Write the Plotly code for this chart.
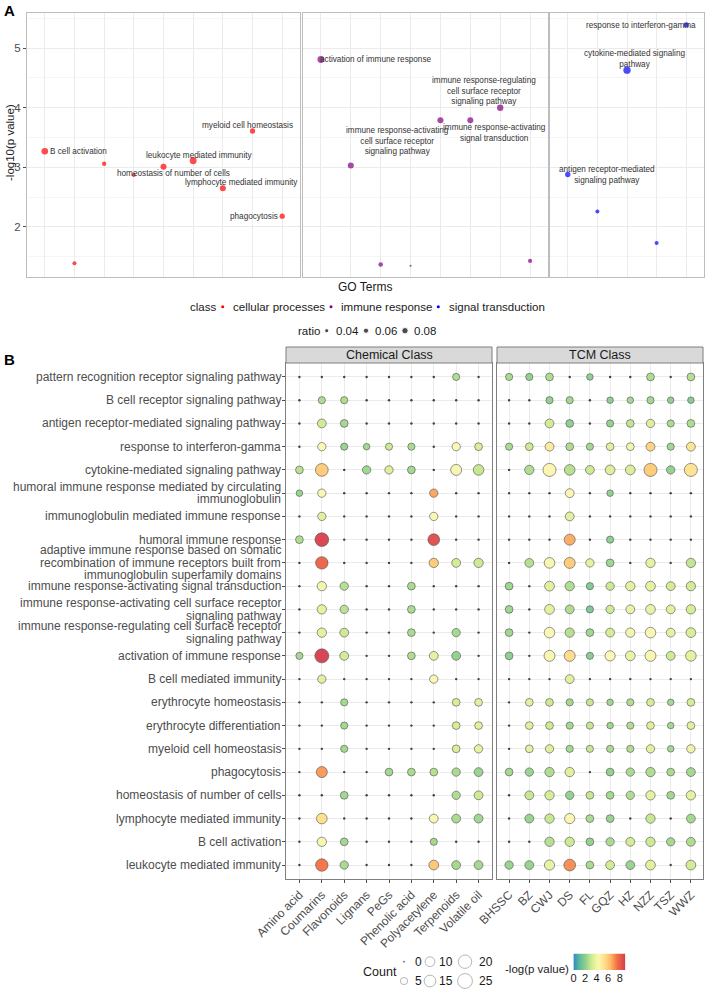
import plotly.graph_objects as go
import numpy as np

# ================= Panel A data =================
cell_terms = ["B cell activation", "B cell mediated immunity", "erythrocyte differentiation",
              "erythrocyte homeostasis", "homeostasis of number of cells", "leukocyte mediated immunity",
              "lymphocyte mediated immunity", "myeloid cell homeostasis", "phagocytosis"]
cell_logp = [3.27, 1.39, 3.06, 2.87, 3.01, 3.11, 2.65, 3.61, 2.18]
cell_ratio = [0.085, 0.04, 0.045, 0.04, 0.075, 0.09, 0.075, 0.062, 0.062]
cell_labels = ["B cell activation", None, None, None, "homeostasis of number of cells",
               "leukocyte mediated immunity", "lymphocyte mediated immunity",
               "myeloid cell homeostasis", "phagocytosis"]

immune_terms = ["activation of immune response",
                "adaptive immune response based on somatic recombination of immune receptors built from immunoglobulin superfamily domains",
                "humoral immune response", "humoral immune response mediated by circulating immunoglobulin",
                "immune response-activating cell surface receptor signaling pathway",
                "immune response-activating signal transduction",
                "immune response-regulating cell surface receptor signaling pathway",
                "immunoglobulin mediated immune response"]
immune_logp = [4.81, 3.03, 1.37, 1.35, 3.79, 3.79, 4.00, 1.43]
immune_ratio = [0.09, 0.075, 0.05, 0.005, 0.075, 0.075, 0.08, 0.042]
immune_labels = ["activation of immune response", None, None, None,
                 "immune response-activating<br>cell surface receptor<br>signaling pathway",
                 "immune response-activating<br>signal transduction",
                 "immune response-regulating<br>cell surface receptor<br>signaling pathway", None]

signal_terms = ["antigen receptor-mediated signaling pathway", "B cell receptor signaling pathway",
                "cytokine-mediated signaling pathway", "pattern recognition receptor signaling pathway",
                "response to interferon-gamma"]
signal_logp = [2.88, 2.26, 4.63, 1.73, 5.39]
signal_ratio = [0.063, 0.04, 0.097, 0.04, 0.063]
signal_labels = ["antigen receptor-mediated<br>signaling pathway", None,
                 "cytokine-mediated signaling<br>pathway", None, "response to interferon-gamma"]

class_names = ["cellular processes", "immune response", "signal transduction"]
ratio_breaks = [0.04, 0.06, 0.08]

# ================= Panel B data =================
go_rows = [
    "pattern recognition receptor signaling pathway",
    "B cell receptor signaling pathway",
    "antigen receptor-mediated signaling pathway",
    "response to interferon-gamma",
    "cytokine-mediated signaling pathway",
    "humoral immune response mediated by circulating<br>immunoglobulin",
    "immunoglobulin mediated immune response",
    "humoral immune response",
    "adaptive immune response based on somatic<br>recombination of immune receptors built from<br>immunoglobulin superfamily domains",
    "immune response-activating signal transduction",
    "immune response-activating cell surface receptor<br>signaling pathway",
    "immune response-regulating cell surface receptor<br>signaling pathway",
    "activation of immune response",
    "B cell mediated immunity",
    "erythrocyte homeostasis",
    "erythrocyte differentiation",
    "myeloid cell homeostasis",
    "phagocytosis",
    "homeostasis of number of cells",
    "lymphocyte mediated immunity",
    "B cell activation",
    "leukocyte mediated immunity",
]
chem_cols = ["Amino acid", "Coumarins", "Flavonoids", "Lignans", "PeGs", "Phenolic acid",
             "Polyacetylene", "Terpenoids", "Volatile oil"]
tcm_cols = ["BHSSC", "BZ", "CWJ", "DS", "FL", "GQZ", "HZ", "NZZ", "TSZ", "WWZ"]

chem_count = [
    [0, 0, 0, 0, 0, 0, 0, 5, 0],
    [0, 5, 5, 0, 0, 0, 0, 0, 0],
    [0, 8, 6, 0, 0, 0, 0, 0, 0],
    [0, 7, 5, 4, 5, 5, 0, 7, 6],
    [6, 18, 0, 7, 7, 6, 0, 13, 12],
    [4, 7, 0, 0, 0, 0, 7, 0, 0],
    [0, 7, 0, 0, 0, 0, 7, 0, 0],
    [6, 21, 0, 0, 0, 0, 15, 0, 0],
    [0, 17, 0, 0, 0, 0, 9, 8, 9],
    [0, 9, 7, 0, 0, 6, 0, 0, 0],
    [0, 9, 7, 0, 0, 6, 0, 0, 0],
    [0, 9, 8, 0, 0, 6, 0, 7, 0],
    [5, 22, 8, 0, 0, 6, 8, 8, 0],
    [0, 7, 0, 0, 0, 0, 7, 0, 0],
    [0, 0, 5, 0, 0, 0, 0, 6, 6],
    [0, 0, 5, 0, 0, 0, 0, 6, 6],
    [0, 0, 5, 0, 0, 0, 0, 6, 7],
    [0, 13, 0, 0, 6, 6, 6, 7, 8],
    [0, 0, 6, 0, 0, 0, 0, 7, 8],
    [0, 12, 0, 0, 0, 0, 8, 8, 8],
    [0, 9, 6, 0, 0, 0, 5, 0, 0],
    [0, 17, 7, 0, 0, 0, 10, 8, 8],
]
chem_logp = [
    [0, 0, 0, 0, 0, 0, 0, 2.6, 0],
    [0, 2.6, 2.6, 0, 0, 0, 0, 0, 0],
    [0, 3.2, 2.4, 0, 0, 0, 0, 0, 0],
    [0, 4.3, 2.2, 2.4, 3.1, 2.5, 0, 4.3, 3.4],
    [2.8, 6.0, 0, 2.3, 3.5, 2.4, 0, 4.2, 3.0],
    [2.2, 4.4, 0, 0, 0, 0, 6.8, 0, 0],
    [0, 3.6, 0, 0, 0, 0, 4.3, 0, 0],
    [2.6, 8.9, 0, 0, 0, 0, 8.6, 0, 0],
    [0, 8.0, 0, 0, 0, 0, 6.0, 3.2, 3.1],
    [0, 4.1, 2.7, 0, 0, 2.5, 0, 0, 0],
    [0, 3.7, 2.8, 0, 0, 2.5, 0, 0, 0],
    [0, 3.7, 3.1, 0, 0, 2.5, 0, 2.4, 0],
    [2.4, 9.0, 3.2, 0, 0, 2.6, 3.7, 2.1, 0],
    [0, 3.6, 0, 0, 0, 0, 4.4, 0, 0],
    [0, 0, 2.4, 0, 0, 0, 0, 3.3, 3.6],
    [0, 0, 2.4, 0, 0, 0, 0, 3.3, 3.6],
    [0, 0, 2.4, 0, 0, 0, 0, 3.4, 3.7],
    [0, 7.0, 0, 0, 2.4, 2.5, 2.7, 2.5, 2.2],
    [0, 0, 2.4, 0, 0, 0, 0, 2.6, 3.1],
    [0, 5.4, 0, 0, 0, 0, 4.4, 2.5, 2.3],
    [0, 4.2, 2.4, 0, 0, 0, 2.4, 0, 0],
    [0, 7.6, 2.5, 0, 0, 0, 6.1, 2.4, 2.4],
]
tcm_count = [
    [5, 5, 6, 0, 4, 0, 0, 6, 0, 6],
    [0, 0, 5, 5, 0, 4, 4, 5, 4, 4],
    [0, 0, 8, 6, 0, 5, 6, 7, 5, 6],
    [5, 6, 8, 6, 5, 6, 6, 8, 5, 8],
    [0, 9, 19, 12, 8, 10, 10, 19, 7, 19],
    [0, 0, 0, 8, 0, 4, 0, 0, 0, 0],
    [0, 0, 0, 8, 0, 0, 0, 0, 0, 0],
    [0, 0, 0, 13, 0, 5, 0, 0, 0, 0],
    [0, 8, 12, 13, 7, 6, 0, 9, 0, 9],
    [6, 0, 10, 9, 5, 7, 9, 10, 8, 9],
    [6, 0, 10, 8, 5, 7, 8, 10, 8, 9],
    [6, 0, 12, 9, 6, 8, 9, 12, 8, 10],
    [6, 0, 13, 13, 5, 11, 10, 13, 8, 12],
    [0, 0, 0, 8, 0, 0, 0, 0, 0, 0],
    [0, 6, 6, 5, 5, 4, 5, 6, 4, 6],
    [0, 6, 6, 5, 5, 4, 5, 6, 4, 6],
    [0, 6, 7, 5, 5, 5, 5, 7, 4, 7],
    [6, 7, 9, 9, 0, 6, 7, 9, 6, 8],
    [0, 8, 9, 7, 6, 6, 7, 9, 6, 9],
    [0, 8, 9, 11, 6, 6, 0, 9, 0, 8],
    [0, 0, 9, 9, 6, 7, 8, 9, 7, 8],
    [7, 8, 11, 15, 6, 8, 8, 10, 0, 10],
]
tcm_logp = [
    [2.5, 2.1, 2.6, 0, 2.0, 0, 0, 2.6, 0, 2.7],
    [0, 0, 2.1, 2.4, 0, 2.0, 2.4, 2.4, 2.1, 1.9],
    [0, 0, 3.2, 2.0, 0, 2.1, 2.9, 3.5, 2.5, 2.6],
    [2.5, 3.1, 5.0, 2.6, 2.4, 3.6, 4.1, 5.8, 2.3, 5.2],
    [0, 2.6, 4.4, 2.7, 3.1, 3.5, 3.4, 6.0, 2.1, 5.3],
    [0, 0, 0, 4.4, 0, 2.1, 0, 0, 0, 0],
    [0, 0, 0, 3.6, 0, 0, 0, 0, 0, 0],
    [0, 0, 0, 6.7, 0, 2.0, 0, 0, 0, 0],
    [0, 2.7, 4.2, 6.0, 3.7, 2.3, 0, 3.7, 0, 2.9],
    [2.3, 0, 3.6, 2.6, 1.8, 3.1, 3.7, 3.7, 3.2, 3.2],
    [2.3, 0, 3.7, 2.6, 1.7, 3.1, 3.9, 3.8, 3.6, 3.3],
    [2.3, 0, 4.3, 2.7, 2.3, 3.3, 4.1, 4.4, 3.7, 3.4],
    [2.0, 0, 4.2, 5.5, 1.9, 4.3, 3.8, 4.2, 3.1, 3.7],
    [0, 0, 0, 3.6, 0, 0, 0, 0, 0, 0],
    [0, 3.6, 3.1, 2.4, 3.0, 2.3, 2.6, 3.3, 2.4, 3.3],
    [0, 3.6, 3.1, 2.4, 3.0, 2.3, 2.6, 3.5, 2.4, 3.6],
    [0, 3.7, 3.5, 2.4, 3.0, 2.5, 2.6, 3.6, 2.4, 4.0],
    [2.4, 2.2, 2.6, 3.6, 0, 2.1, 2.5, 2.6, 2.5, 2.4],
    [0, 3.0, 3.3, 2.1, 3.0, 2.4, 2.6, 3.7, 2.4, 3.7],
    [0, 2.2, 3.0, 4.3, 2.5, 2.2, 0, 3.0, 0, 2.4],
    [0, 0, 2.7, 3.1, 2.1, 2.5, 3.2, 3.1, 2.4, 2.6],
    [2.2, 2.2, 3.8, 7.2, 2.5, 3.2, 2.2, 3.6, 0, 3.2],
]
count_breaks = [0, 5, 10, 15, 20, 25]
color_ticks = [0, 2, 4, 6, 8]

# ================= styling =================
FONT = "Liberation Sans, Arial, sans-serif"
PAGE_W, PAGE_H = 707, 991
OFF = 0                       # page margin is removed by the post script below
W, H = PAGE_W - OFF, PAGE_H - OFF
class_colors = ["#FF0000", "#800080", "#0000FF"]
spectral = [[0, "#3288BD"], [0.12, "#5DBA9E"], [0.24, "#93D18C"], [0.36, "#D4EC90"],
            [0.48, "#FBF8B2"], [0.6, "#FEE08B"], [0.72, "#FDB867"], [0.85, "#F46D43"], [1, "#D53E4F"]]
CMIN, CMAX = 0, 9.0
LINE_PX = 12.6   # line spacing of wrapped y labels in panel B


def a_size(r):
    return 1.75 + 57.5 * np.asarray(r)


def b_size(c):
    return 1 + 2.77 * np.sqrt(np.asarray(c, dtype=float))


def px_x(p):
    return (p - OFF) / W


def px_y(p):
    return 1 - (p - OFF) / H


# label offsets (pixels: dx right, dy down) and anchors
cell_off = {0: (3.5, 0, "left"), 4: (10, 7, "center"), 5: (6, -5.7, "center"),
            6: (19, -5.6, "center"), 7: (-5, -5, "center"), 8: (-2.5, 0, "right")}
immune_off = {0: (-3, 0.5, "left"), 4: (-43, 21, "center"), 5: (24, 13, "center"),
              6: (-16, -17, "center")}
signal_off = {0: (39, 0.5, "center"), 2: (7, -11.5, "center"), 4: (-45, 0.7, "center")}

fig = go.Figure()
annotations = []

facetsA = [
    ("x", "y", cell_logp, cell_ratio, cell_labels, cell_off, class_colors[0]),
    ("x2", "y2", immune_logp, immune_ratio, immune_labels, immune_off, class_colors[1]),
    ("x3", "y3", signal_logp, signal_ratio, signal_labels, signal_off, class_colors[2]),
]
for xa, ya, lp, rt, labs, offs, col in facetsA:
    xs = list(range(1, len(lp) + 1))
    fig.add_trace(go.Scatter(x=xs, y=lp, mode="markers", xaxis=xa, yaxis=ya,
                             marker=dict(size=a_size(rt), color=col, line=dict(width=0)),
                             showlegend=False, hoverinfo="skip"))
    for i, lab in enumerate(labs):
        if lab is None:
            continue
        dx, dy, anc = offs[i]
        annotations.append(dict(x=xs[i], y=lp[i], xref=xa, yref=ya, text=lab, showarrow=False,
                                xanchor=anc, yanchor="middle", xshift=dx, yshift=-dy,
                                font=dict(family=FONT, size=8.2, color="#333333"), align="center"))

# Panel B
for xa, ya, counts, logps, ncol in [("x4", "y4", chem_count, chem_logp, len(chem_cols)),
                                    ("x5", "y5", tcm_count, tcm_logp, len(tcm_cols))]:
    zx, zy, nx, ny, nc, nl = [], [], [], [], [], []
    for r in range(len(go_rows)):
        for c in range(ncol):
            if counts[r][c] == 0:
                zx.append(c + 1); zy.append(r + 1)
            else:
                nx.append(c + 1); ny.append(r + 1); nc.append(counts[r][c]); nl.append(logps[r][c])
    fig.add_trace(go.Scatter(x=zx, y=zy, mode="markers", xaxis=xa, yaxis=ya,
                             marker=dict(size=2.4, color="#2E4656", line=dict(width=0)),
                             showlegend=False, hoverinfo="skip"))
    mk = dict(size=b_size(nc), color=nl, colorscale=spectral, cmin=CMIN, cmax=CMAX,
              line=dict(width=0.7, color="rgba(70,70,70,0.85)"), opacity=0.95, showscale=False)
    fig.add_trace(go.Scatter(x=nx, y=ny, mode="markers", xaxis=xa, yaxis=ya, marker=mk,
                             showlegend=False, hoverinfo="skip"))

# y labels of panel B, one annotation per line for tight line spacing
for r, lab in enumerate(go_rows):
    lines = lab.split("<br>")
    n = len(lines)
    for k, ln in enumerate(lines):
        annotations.append(dict(x=px_x(282.5), y=r + 1, xref="paper", yref="y4", text=ln, showarrow=False,
                                xanchor="right", yanchor="middle", yshift=((n - 1) / 2 - k) * LINE_PX,
                                font=dict(family=FONT, size=12, color="#4D4D4D")))

# colour key (gradient drawn as a heatmap on its own axis)
grad = np.linspace(CMIN, CMAX, 120)
fig.add_trace(go.Heatmap(z=[grad], x=grad, y=[0], xaxis="x8", yaxis="y8", colorscale=spectral,
                         zmin=CMIN, zmax=CMAX, showscale=False, hoverinfo="skip"))

# Legend A (auxiliary axis, page-pixel units)
leg_y1, leg_y2 = 306.7, 330.7
class_dot_x = [222.7, 331, 438.3]
class_text_x = [231, 339, 446.7]
fig.add_trace(go.Scatter(x=class_dot_x, y=[leg_y1] * 3, mode="markers", xaxis="x6", yaxis="y6",
                         marker=dict(size=3, color=class_colors), showlegend=False, hoverinfo="skip"))
ratio_dot_x = [326.7, 366, 405]
ratio_text_x = [334.3, 372.7, 412.3]
fig.add_trace(go.Scatter(x=ratio_dot_x, y=[leg_y2] * 3, mode="markers", xaxis="x6", yaxis="y6",
                         marker=dict(size=a_size(ratio_breaks), color="black"), showlegend=False,
                         hoverinfo="skip"))
lf = dict(family=FONT, size=11.5, color="#1A1A1A")
annotations.append(dict(x=364.7, y=287.5, xref="x6", yref="y6", text="GO Terms", showarrow=False,
                        xanchor="center", yanchor="middle", font=dict(family=FONT, size=12, color="#1A1A1A")))
annotations.append(dict(x=188, y=leg_y1, xref="x6", yref="y6", text="class", showarrow=False,
                        xanchor="left", yanchor="middle", font=lf))
for tx, nm in zip(class_text_x, class_names):
    annotations.append(dict(x=tx, y=leg_y1, xref="x6", yref="y6", text=nm, showarrow=False,
                            xanchor="left", yanchor="middle", font=lf))
annotations.append(dict(x=295.7, y=leg_y2, xref="x6", yref="y6", text="ratio", showarrow=False,
                        xanchor="left", yanchor="middle", font=lf))
for tx, rb in zip(ratio_text_x, ratio_breaks):
    annotations.append(dict(x=tx, y=leg_y2, xref="x6", yref="y6", text=f"{rb:.2f}", showarrow=False,
                            xanchor="left", yanchor="middle", font=lf))

# Legend B (count)
cnt_x = [404, 430, 465]
cnt_tx = [412.5, 436.5, 476.5]
cnt_y = [961.7, 981]
lx, ly, ls = [], [], []
for k, cb in enumerate(count_breaks):
    row, colk = k % 2, k // 2
    lx.append(cnt_x[colk]); ly.append(cnt_y[row]); ls.append(cb)
    annotations.append(dict(x=cnt_tx[colk], y=cnt_y[row], xref="x7", yref="y7", text=str(cb),
                            showarrow=False, xanchor="left", yanchor="middle",
                            font=dict(family=FONT, size=12, color="#1A1A1A")))
sizes = [2.0 if c == 0 else float(b_size(c)) for c in ls]
fig.add_trace(go.Scatter(x=lx, y=ly, mode="markers", xaxis="x7", yaxis="y7",
                         marker=dict(size=sizes, color="white",
                                     line=dict(width=[0 if c == 0 else 0.8 for c in ls], color="#7F7F7F")),
                         showlegend=False, hoverinfo="skip"))
fig.add_trace(go.Scatter(x=[lx[0]], y=[ly[0]], mode="markers", xaxis="x7", yaxis="y7",
                         marker=dict(size=2, color="#7F7F7F"), showlegend=False, hoverinfo="skip"))
annotations.append(dict(x=380, y=972, xref="x7", yref="y7", text="Count", showarrow=False,
                        xanchor="center", yanchor="middle", font=dict(family=FONT, size=12.5, color="#1A1A1A")))
annotations.append(dict(x=571, y=969, xref="x7", yref="y7", text="-log(p value)", showarrow=False,
                        xanchor="right", yanchor="middle", font=dict(family=FONT, size=11.5, color="#1A1A1A")))

# Strips, panel letters, titles
shapes = []
for (x0, x1), txt in [((286, 492), "Chemical Class"), ((497, 703), "TCM Class")]:
    shapes.append(dict(type="rect", xref="paper", yref="paper", x0=px_x(x0), x1=px_x(x1),
                       y0=px_y(363), y1=px_y(347), fillcolor="#D9D9D9", line=dict(color="#7F7F7F", width=1)))
    annotations.append(dict(x=px_x((x0 + x1) / 2), y=px_y(355), xref="paper", yref="paper", text=txt,
                            showarrow=False, xanchor="center", yanchor="middle",
                            font=dict(family=FONT, size=12.5, color="#1A1A1A")))
annotations.append(dict(x=px_x(9), y=px_y(10.5), xref="paper", yref="paper", text="<b>A</b>", showarrow=False,
                        xanchor="center", yanchor="middle", font=dict(family=FONT, size=15, color="black")))
annotations.append(dict(x=px_x(9), y=px_y(359), xref="paper", yref="paper", text="<b>B</b>", showarrow=False,
                        xanchor="center", yanchor="middle", font=dict(family=FONT, size=15, color="black")))
annotations.append(dict(x=px_x(10), y=px_y(143), xref="paper", yref="paper", text="-log10(p value)",
                        showarrow=False, textangle=-90, xanchor="center", yanchor="middle",
                        font=dict(family=FONT, size=11.5, color="#1A1A1A")))

gridc = "#EBEBEB"
a_x = dict(showgrid=True, gridcolor=gridc, gridwidth=1, showline=True, mirror=True, linecolor="#BDBDBD",
           linewidth=1, ticks="", showticklabels=False, zeroline=False, dtick=1, tick0=0)
a_y = dict(range=[1.16, 5.59], dtick=1, tick0=0, showgrid=True, gridcolor=gridc, showline=True, mirror=True,
           linecolor="#BDBDBD", linewidth=1, zeroline=False,
           minor=dict(dtick=0.5, tick0=0, showgrid=True, gridcolor="#F5F5F5", ticks=""),
           domain=[px_y(277), px_y(13)])
b_x = dict(showgrid=True, gridcolor=gridc, showline=True, mirror=True, linecolor="#7F7F7F", linewidth=1.2,
           zeroline=False, ticks="outside", ticklen=3, tickcolor="#4D4D4D", tickangle=-45,
           tickfont=dict(family=FONT, size=12, color="#4D4D4D"))
b_y = dict(range=[22.6, 0.4], showgrid=True, gridcolor=gridc, showline=True, mirror=True, linecolor="#7F7F7F",
           linewidth=1.2, zeroline=False, domain=[px_y(879), px_y(363)], tickvals=list(range(1, 23)),
           showticklabels=False)

fig.update_layout(
    width=W, height=H, margin=dict(l=0, r=0, t=0, b=0, autoexpand=False), autosize=False,
    paper_bgcolor="white", plot_bgcolor="white", showlegend=False,
    font=dict(family=FONT),
    xaxis=dict(a_x, domain=[px_x(27), px_x(300)], range=[0.4, len(cell_logp) + 0.6], anchor="y"),
    xaxis2=dict(a_x, domain=[px_x(303), px_x(548)], range=[0.4, len(immune_logp) + 0.6], anchor="y2"),
    xaxis3=dict(a_x, domain=[px_x(550), px_x(704)], range=[0.4, len(signal_logp) + 0.6], anchor="y3"),
    yaxis=dict(a_y, anchor="x", ticks="outside", ticklen=3, tickcolor="#4D4D4D",
               tickfont=dict(family=FONT, size=11.5, color="#4D4D4D")),
    yaxis2=dict(a_y, anchor="x2", showticklabels=False, ticks=""),
    yaxis3=dict(a_y, anchor="x3", showticklabels=False, ticks=""),
    xaxis4=dict(b_x, domain=[px_x(286), px_x(492)], range=[0.4, len(chem_cols) + 0.6],
                tickvals=list(range(1, len(chem_cols) + 1)), ticktext=chem_cols, anchor="y4"),
    xaxis5=dict(b_x, domain=[px_x(497), px_x(703)], range=[0.4, len(tcm_cols) + 0.6],
                tickvals=list(range(1, len(tcm_cols) + 1)), ticktext=tcm_cols, anchor="y5"),
    yaxis4=dict(b_y, anchor="x4", ticks="outside", ticklen=3, tickcolor="#4D4D4D"),
    yaxis5=dict(b_y, anchor="x5", ticks=""),
    xaxis6=dict(domain=[0, 1], range=[OFF, PAGE_W], visible=False, anchor="y6"),
    yaxis6=dict(domain=[px_y(342), px_y(279)], range=[342, 279], visible=False, anchor="x6"),
    xaxis7=dict(domain=[0, 1], range=[OFF, PAGE_W], visible=False, anchor="y7"),
    yaxis7=dict(domain=[0, px_y(938)], range=[PAGE_H, 938], visible=False, anchor="x7"),
    xaxis8=dict(domain=[px_x(573.5), px_x(625.5)], range=[CMIN, CMAX], anchor="y8",
                tickvals=color_ticks, ticks="", showgrid=False, zeroline=False, showline=False,
                tickfont=dict(family=FONT, size=11, color="#1A1A1A")),
    yaxis8=dict(domain=[px_y(970), px_y(953.5)], range=[-0.5, 0.5], visible=False, anchor="x8"),
    annotations=annotations, shapes=shapes,
)

fig.write_html("out.html", config={"displayModeBar": False},
               post_script="document.body.style.margin='0';document.body.style.overflow='hidden';")
